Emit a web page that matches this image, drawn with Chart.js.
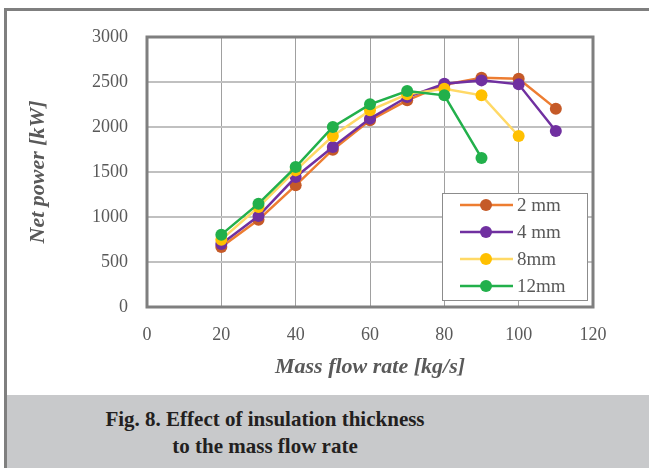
<!DOCTYPE html>
<html>
<head>
<meta charset="utf-8">
<script src="https://cdn.jsdelivr.net/npm/chart.js@4"></script>
<style>
  body { margin: 0; background: #fff; }
  #wrap { position: relative; width: 649px; height: 468px; overflow: hidden; }
  #frame {
    position: absolute; left: 4px; top: 8px; right: -10px; bottom: 0;
    border-left: 3px solid #7f7f7f; border-top: 3px solid #7f7f7f;
  }
  #caption {
    position: absolute; left: 7px; right: 0; top: 395px; bottom: 0;
    background: #c8c9cb;
  }
  #caption div {
    width: 516px; color: #231f20;
    font: bold 21px "Liberation Serif", serif; text-align: center;
    line-height: 27px; padding-top: 11px;
  }
  #chartBox { position: absolute; left: 0; top: 0; width: 649px; height: 395px; }
</style>
</head>
<body>
<div id="wrap">
  <div id="frame"></div>
  <div id="chartBox"><canvas id="netPowerChart" width="649" height="395"></canvas></div>
  <div id="caption"><div>Fig. 8. Effect of insulation thickness<br>to the mass flow rate</div></div>
</div>
<script>
// mass flow rate [kg/s]
const massFlow = [20, 30, 40, 50, 60, 70, 80, 90, 100, 110];

// net power [kW] per insulation thickness
const power2mm = [667, 970, 1352, 1748, 2074, 2296, 2470, 2548, 2537, 2204];
const power4mm = [700, 1011, 1444, 1778, 2093, 2333, 2481, 2518, 2474, 1955];
const power8mm = [748, 1111, 1518, 1900, 2185, 2363, 2426, 2352, 1900];
const power12mm = [804, 1148, 1555, 2000, 2252, 2400, 2352, 1656];

const seriesNames = ['2 mm', '4 mm', '8mm', '12mm'];

const xTicks = [0, 20, 40, 60, 80, 100, 120];
const yTicks = [0, 500, 1000, 1500, 2000, 2500, 3000];

const serif = '"Liberation Serif", serif';

function toPoints(values) {
    return values.map((v, i) => ({ x: massFlow[i], y: v }));
}

function makeSeries(label, values, lineColor, pointColor, order) {
    return {
        label: label,
        data: toPoints(values),
        borderColor: lineColor,
        backgroundColor: pointColor,
        pointBackgroundColor: pointColor,
        pointBorderWidth: 0,
        pointRadius: 6,
        borderWidth: 2.5,
        tension: 0,
        order: order
    };
}

// plot frame drawn around the chart area
const framePlugin = {
    id: 'plotFrame',
    beforeDatasetsDraw(chart) {
        const a = chart.chartArea;
        const ctx = chart.ctx;
        ctx.save();
        ctx.strokeStyle = '#7f7f7f';
        ctx.lineWidth = 3;
        ctx.strokeRect(a.left, a.top, a.right - a.left, a.bottom - a.top);
        ctx.restore();
    }
};

// boxed legend inside the plot, bottom right
const legendPlugin = {
    id: 'boxLegend',
    afterDraw(chart) {
        const ctx = chart.ctx;
        const x0 = 442, y0 = 193, w = 145, h = 107;
        ctx.save();
        ctx.fillStyle = '#ffffff';
        ctx.fillRect(x0, y0, w, h);
        ctx.strokeStyle = '#8c8c8c';
        ctx.lineWidth = 1;
        ctx.strokeRect(x0 + 0.5, y0 + 0.5, w, h);
        chart.data.datasets.forEach((ds, i) => {
            const y = y0 + 12 + i * 27;
            ctx.strokeStyle = ds.borderColor;
            ctx.lineWidth = 2.5;
            ctx.beginPath();
            ctx.moveTo(460, y);
            ctx.lineTo(513, y);
            ctx.stroke();
            ctx.fillStyle = ds.pointBackgroundColor;
            ctx.beginPath();
            ctx.arc(486, y, 6, 0, Math.PI * 2);
            ctx.fill();
            ctx.fillStyle = '#595959';
            ctx.font = '19px ' + serif;
            ctx.textBaseline = 'middle';
            ctx.textAlign = 'left';
            ctx.fillText(ds.label, 517, y + 1);
        });
        ctx.restore();
    }
};

const ctx = document.getElementById('netPowerChart').getContext('2d');

new Chart(ctx, {
    type: 'line',
    data: {
        datasets: [
            makeSeries(seriesNames[0], power2mm, '#ed7d31', '#c55a28', 3),
            makeSeries(seriesNames[1], power4mm, '#7030a0', '#7030a0', 2),
            makeSeries(seriesNames[2], power8mm, '#ffd966', '#ffc000', 1),
            makeSeries(seriesNames[3], power12mm, '#22b04b', '#22b04b', 0)
        ]
    },
    options: {
        responsive: false,
        animation: false,
        devicePixelRatio: 1,
        layout: { padding: { left: 0, top: 37, right: 56, bottom: 0 } },
        plugins: {
            legend: { display: false },
            tooltip: { enabled: false }
        },
        scales: {
            x: {
                type: 'linear',
                min: 0,
                max: 120,
                afterFit(scale) { scale.height = 88; },
                afterBuildTicks(scale) { scale.ticks = xTicks.map(v => ({ value: v })); },
                grid: { color: '#a0a0a0', lineWidth: 1, drawTicks: false },
                border: { display: false },
                ticks: {
                    color: '#595959',
                    font: { family: serif, size: 18 },
                    padding: 17,
                    callback: v => String(v)
                },
                title: {
                    display: true,
                    text: 'Mass flow rate [kg/s]',
                    color: '#595959',
                    font: { family: serif, size: 22, style: 'italic', weight: 'bold' },
                    padding: { top: 0, bottom: 14 }
                }
            },
            y: {
                min: 0,
                max: 3000,
                afterFit(scale) { scale.width = 147; },
                afterBuildTicks(scale) { scale.ticks = yTicks.map(v => ({ value: v })); },
                grid: { color: '#c0c0c0', lineWidth: 2, drawTicks: false },
                border: { display: false },
                ticks: {
                    color: '#595959',
                    font: { family: serif, size: 18 },
                    padding: 19,
                    callback: v => String(v)
                },
                title: {
                    display: true,
                    text: 'Net power [kW]',
                    color: '#595959',
                    font: { family: serif, size: 22, style: 'italic', weight: 'bold' },
                    padding: { top: 25, bottom: 0 }
                }
            }
        }
    },
    plugins: [framePlugin, legendPlugin]
});
</script>
</body>
</html>
